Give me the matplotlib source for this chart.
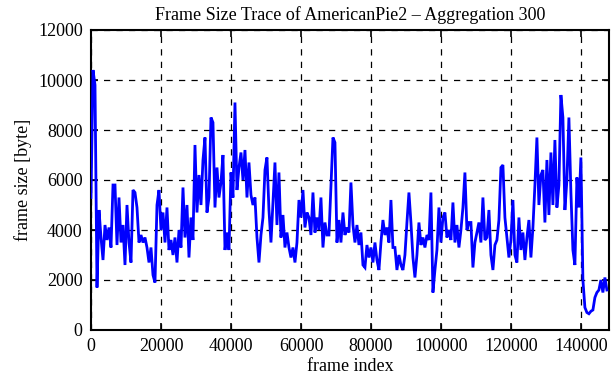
import numpy as np
import matplotlib
matplotlib.use("Agg")
import matplotlib.pyplot as plt

title = "Frame Size Trace of AmericanPie2 \u2013 Aggregation 300"
x_label = "frame index"
y_label = "frame size [byte]"
last_frame = 147400
x_ticks = [0, 20000, 40000, 60000, 80000, 100000, 120000, 140000]
y_ticks = [0, 2000, 4000, 6000, 8000, 10000, 12000]

sizes_a = [5300, 10400, 9800, 1700, 4800, 3700, 2800, 4200, 3600, 4100, 3300, 5800, 5800,
           3400, 5300, 3500, 4200, 2600, 5000, 3500, 2700, 5600, 5500, 4900, 3500, 3800,
           3500, 3700, 3300, 2700, 3300, 2200, 1900, 5000, 5600, 4000, 4700, 3500]
sizes_b = [4900, 3200, 3600, 3000, 3700, 2700, 4000, 3300, 5700, 3700, 5000, 2900, 4500,
           3600, 7400, 4700, 6200, 5000, 6800, 7700, 4700, 5300, 8500, 8300, 4900, 6500,
           5300, 5900, 7000, 3200, 3900, 3200, 6300, 5300, 9100, 5600, 6500, 7100]
sizes_c = [6000, 7200, 5300, 6700, 5400, 5000, 5300, 3700, 2700, 3800, 4500, 6400, 6900,
           4800, 3500, 5100, 6700, 4200, 6300, 3700, 4600, 3300, 3900, 3300, 2900, 3300,
           2700, 3500, 5200, 4500, 5600, 4100, 4700, 4500, 3800, 5500, 3900, 4500]
sizes_d = [4000, 5300, 3300, 4300, 3800, 3800, 5700, 7700, 7500, 3500, 4400, 3500, 4700,
           3800, 4100, 3900, 5900, 4200, 3500, 4200, 3400, 3900, 2600, 2500, 3400, 2900,
           3300, 2700, 3500, 2800, 2400, 3500, 4400, 3800, 4100, 3500, 5200, 3300]
sizes_e = [3300, 2400, 3000, 2600, 2400, 3000, 4300, 5500, 4300, 2900, 2100, 3000, 4300,
           3400, 3700, 3300, 3800, 3600, 5500, 1500, 2400, 3200, 4900, 3500, 4500, 4700,
           3700, 4000, 3600, 5100, 3500, 4200, 3300, 4000, 4900, 6300, 4000, 4300]
sizes_f = [4300, 2500, 3500, 3900, 4300, 3500, 5300, 3600, 3700, 4800, 3000, 2400, 3400,
           3600, 4400, 6500, 6600, 4500, 3700, 2900, 3600, 5200, 3000, 2700, 4500, 3200,
           3900, 2800, 3700, 4400, 2900, 4100, 5800, 7700, 5000, 6200, 6400, 4300]
sizes_g = [6800, 4600, 7100, 5000, 7600, 4900, 5800, 9400, 8500, 4800, 6000, 8500, 5500,
           3200, 2600, 6100, 4900, 6900, 2000, 900, 700, 650, 750, 800, 1300, 1500, 1600,
           2000, 1500, 2100, 1600]

sizes = np.array(sizes_a + sizes_b + sizes_c + sizes_d + sizes_e + sizes_f + sizes_g)
frames = np.linspace(0, last_frame, len(sizes))

serif = ["Liberation Serif", "DejaVu Serif"]
plt.rcParams["font.family"] = serif

fig = plt.figure(figsize=(6.11, 3.80), dpi=100)
ax = fig.add_axes([91/611, 1 - 330/380, (609 - 91)/611, 300/380])

ax.plot(frames, sizes, color="#0000ff", lw=2.0, zorder=3,
        solid_joinstyle="miter")

ax.set_xlim(0, 148000)
ax.set_ylim(0, 12000)
ax.set_xticks(x_ticks)
ax.set_yticks(y_ticks)
ax.set_xticklabels([str(t) for t in x_ticks], fontsize=13)
ax.set_yticklabels([str(t) for t in y_ticks], fontsize=13)
ax.tick_params(direction="in", length=5, width=1.2, top=True, right=True, pad=6)
ax.grid(True, color="black", linestyle=(0, (5, 5)), linewidth=0.9)
for s in ax.spines.values():
    s.set_linewidth(1.5)

ax.set_title(title, fontsize=13, pad=7)
ax.set_xlabel(x_label, fontsize=13, labelpad=2)
ax.set_ylabel(y_label, fontsize=13, labelpad=4)

fig.savefig("out.png", dpi=100)
